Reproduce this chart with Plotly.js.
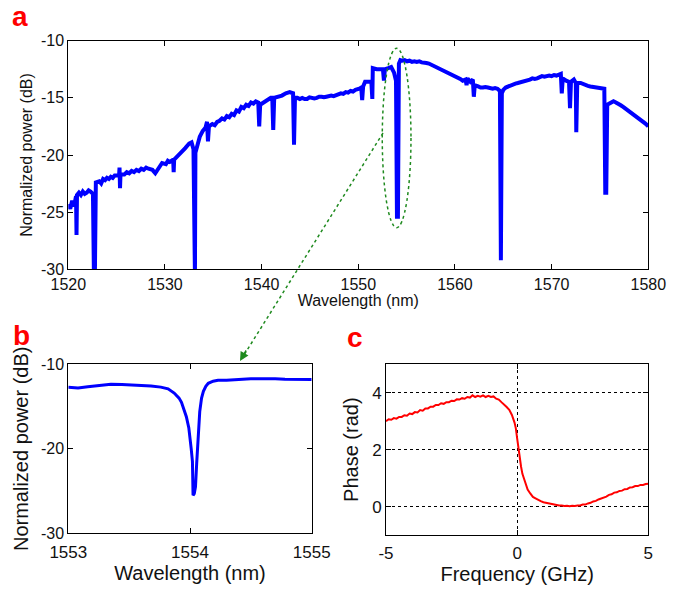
<!DOCTYPE html>
<html>
<head>
<meta charset="utf-8">
<script src="https://cdn.plot.ly/plotly-3.0.1.min.js"></script>
<style>html,body{margin:0;padding:0;background:#fff;}#chart{width:675px;height:589px;}</style>
</head>
<body>
<div id="chart"></div>
<script>
// Panel a: broadband transmission spectrum
const waveA = [1520.00,1520.20,1520.40,1520.60,1520.80,1520.85,1520.90,1521.10,1521.30,1521.50,1521.70,1521.90,1522.10,1522.30,1522.55,1522.65,1522.75,1522.85,1523.20,1523.40,1523.60,1523.80,1524.00,1524.20,1524.40,1524.60,1524.80,1525.25,1525.30,1525.35,1525.40,1525.80,1526.05,1526.30,1526.55,1526.80,1527.05,1527.30,1527.55,1527.80,1528.05,1528.30,1528.70,1529.00,1529.30,1529.70,1530.10,1530.30,1530.50,1530.85,1530.90,1530.95,1531.30,1531.70,1532.10,1532.50,1532.75,1532.95,1533.00,1533.10,1533.15,1533.30,1533.60,1533.90,1534.20,1534.35,1534.45,1534.55,1534.90,1535.15,1535.40,1535.65,1535.90,1536.15,1536.40,1536.65,1536.90,1537.15,1537.40,1537.65,1537.90,1538.15,1538.40,1538.65,1538.90,1539.15,1539.40,1539.65,1539.75,1539.85,1540.20,1540.60,1540.95,1541.10,1541.20,1541.30,1541.70,1542.10,1542.50,1542.90,1543.25,1543.35,1543.45,1543.70,1543.95,1544.20,1544.45,1544.70,1544.95,1545.20,1545.45,1545.70,1545.95,1546.20,1546.45,1546.70,1546.95,1547.20,1547.45,1547.70,1547.95,1548.20,1548.45,1548.70,1548.95,1549.20,1549.45,1549.70,1550.10,1550.30,1550.40,1550.50,1550.70,1551.00,1551.35,1551.45,1551.50,1551.90,1552.30,1552.55,1552.65,1552.75,1553.10,1553.40,1553.70,1553.90,1554.00,1554.10,1554.20,1554.35,1554.55,1554.80,1555.05,1555.30,1555.55,1555.80,1556.05,1556.30,1556.55,1556.80,1557.05,1557.30,1557.55,1557.80,1558.05,1558.30,1558.55,1558.80,1559.05,1559.30,1559.55,1559.80,1560.05,1560.30,1560.55,1560.80,1561.10,1561.20,1561.30,1561.60,1561.85,1561.95,1562.05,1562.40,1562.65,1562.90,1563.15,1563.40,1563.65,1563.90,1564.15,1564.40,1564.65,1564.75,1564.85,1565.00,1565.25,1565.50,1565.75,1566.00,1566.25,1566.50,1566.75,1567.00,1567.25,1567.50,1567.75,1568.00,1568.25,1568.50,1568.75,1569.00,1569.25,1569.50,1569.75,1570.00,1570.25,1570.50,1570.95,1571.05,1571.15,1571.50,1571.80,1571.90,1572.00,1572.30,1572.50,1572.55,1572.65,1573.00,1573.25,1573.50,1573.75,1574.00,1574.25,1574.50,1574.75,1575.00,1575.45,1575.55,1575.65,1575.75,1576.00,1576.20,1576.40,1576.65,1576.90,1577.15,1577.40,1577.65,1577.90,1578.15,1578.40,1578.65,1578.90,1579.15,1579.40,1579.70,1580.00];
const powerA = [-24.3,-24.7,-24.0,-24.5,-23.6,-27.0,-23.5,-23.3,-23.5,-23.2,-23.4,-23.3,-23.1,-23.2,-23.4,-30.5,-30.5,-22.4,-22.3,-22.5,-22.1,-22.2,-22.0,-22.1,-21.9,-22.0,-21.8,-21.8,-21.1,-22.9,-21.7,-21.7,-21.5,-21.6,-21.4,-21.5,-21.3,-21.4,-21.2,-21.3,-21.1,-21.2,-21.3,-21.6,-21.2,-20.7,-20.8,-20.5,-20.6,-20.4,-21.5,-20.4,-20.1,-19.8,-19.4,-19.0,-18.9,-19.5,-30.5,-30.5,-19.8,-19.3,-18.4,-17.9,-17.6,-17.1,-18.8,-17.5,-17.3,-17.4,-17.1,-17.0,-16.8,-16.9,-16.6,-16.7,-16.4,-16.5,-16.1,-16.2,-15.8,-15.9,-15.6,-15.7,-15.4,-15.5,-15.3,-15.4,-17.5,-15.6,-15.4,-15.2,-15.0,-15.0,-17.8,-15.0,-14.9,-14.8,-14.6,-14.5,-14.6,-19.1,-15.0,-15.0,-15.1,-15.0,-15.1,-15.1,-14.95,-15.0,-15.05,-15.0,-14.9,-14.9,-14.95,-14.9,-14.85,-14.8,-14.85,-14.75,-14.7,-14.6,-14.65,-14.5,-14.55,-14.4,-14.45,-14.3,-14.2,-14.1,-15.2,-14.0,-13.6,-13.6,-13.6,-15.1,-12.4,-12.5,-12.5,-12.5,-13.5,-12.5,-12.4,-12.3,-12.8,-13.5,-25.4,-25.4,-12.0,-11.7,-11.75,-11.7,-11.8,-11.75,-11.85,-11.8,-11.85,-11.8,-11.9,-11.9,-11.95,-12.0,-12.1,-12.2,-12.3,-12.4,-12.5,-12.6,-12.7,-12.8,-12.9,-13.0,-13.1,-13.2,-13.35,-13.5,-13.4,-13.9,-13.3,-13.6,-13.4,-14.9,-13.9,-14.0,-14.1,-14.1,-14.05,-14.1,-14.15,-14.2,-14.15,-14.2,-14.4,-29.2,-14.6,-14.3,-14.1,-14.0,-13.9,-13.8,-13.75,-13.7,-13.65,-13.6,-13.55,-13.5,-13.4,-13.3,-13.35,-13.3,-13.2,-13.1,-13.15,-13.1,-13.05,-13.1,-13.0,-13.05,-12.9,-14.6,-13.3,-13.5,-13.6,-15.9,-13.6,-13.4,-13.7,-18.0,-13.7,-13.7,-13.8,-13.9,-13.95,-14.0,-14.05,-14.1,-14.15,-14.2,-14.2,-23.3,-23.3,-15.6,-15.5,-15.35,-15.3,-15.4,-15.5,-15.65,-15.8,-15.95,-16.1,-16.25,-16.4,-16.55,-16.7,-16.85,-17.0,-17.25,-17.5];

// Panel b: zoom on the resonance near 1554 nm
const waveB = [1553.00,1553.08,1553.16,1553.25,1553.35,1553.44,1553.52,1553.60,1553.68,1553.76,1553.82,1553.87,1553.91,1553.93,1553.95,1553.97,1553.99,1554.00,1554.01,1554.02,1554.025,1554.035,1554.045,1554.055,1554.065,1554.08,1554.095,1554.11,1554.13,1554.15,1554.19,1554.23,1554.30,1554.37,1554.44,1554.50,1554.60,1554.70,1554.78,1554.86,1554.93,1555.00];
const powerB = [-12.72,-12.8,-12.65,-12.5,-12.37,-12.4,-12.45,-12.5,-12.57,-12.7,-12.9,-13.4,-14.0,-14.5,-15.3,-16.2,-17.5,-18.6,-20.0,-21.5,-25.5,-25.3,-24.5,-21.7,-18.6,-15.6,-14.0,-13.2,-12.6,-12.25,-12.0,-11.9,-11.9,-11.85,-11.75,-11.7,-11.72,-11.7,-11.78,-11.8,-11.8,-11.8];

// Panel c: phase response
const freqC = [-5.0,-4.9,-4.8,-4.7,-4.6,-4.5,-4.4,-4.3,-4.2,-4.1,-4.0,-3.9,-3.8,-3.7,-3.6,-3.5,-3.4,-3.3,-3.2,-3.1,-3.0,-2.9,-2.8,-2.7,-2.6,-2.5,-2.4,-2.3,-2.2,-2.1,-2.0,-1.9,-1.8,-1.7,-1.6,-1.5,-1.4,-1.3,-1.2,-1.1,-1.0,-0.9,-0.8,-0.7,-0.6,-0.5,-0.4,-0.3,-0.2,-0.1,-0.05,0.0,0.05,0.1,0.15,0.2,0.3,0.4,0.5,0.6,0.7,0.8,0.9,1.0,1.1,1.2,1.3,1.4,1.5,1.6,1.7,1.8,1.9,2.0,2.1,2.2,2.3,2.4,2.5,2.6,2.7,2.8,2.9,3.0,3.1,3.2,3.3,3.4,3.5,3.6,3.7,3.8,3.9,4.0,4.1,4.2,4.3,4.4,4.5,4.6,4.7,4.8,4.9,5.0];
const phaseC = [3.00,3.07,3.05,3.11,3.09,3.15,3.15,3.21,3.19,3.27,3.25,3.32,3.31,3.39,3.37,3.45,3.45,3.51,3.51,3.57,3.57,3.63,3.61,3.67,3.67,3.72,3.71,3.77,3.76,3.81,3.79,3.85,3.83,3.91,3.85,3.89,3.86,3.91,3.85,3.89,3.85,3.87,3.79,3.76,3.67,3.60,3.50,3.40,3.22,2.95,2.75,2.40,2.05,1.65,1.40,1.15,0.85,0.60,0.46,0.34,0.29,0.23,0.19,0.15,0.13,0.10,0.10,0.07,0.06,0.04,0.04,0.02,0.03,0.01,0.03,0.02,0.04,0.04,0.07,0.07,0.11,0.13,0.18,0.20,0.25,0.28,0.33,0.35,0.41,0.43,0.49,0.50,0.55,0.56,0.61,0.62,0.67,0.68,0.72,0.72,0.76,0.76,0.79,0.80];

const xTicksA = [1520,1530,1540,1550,1560,1570,1580];
const yTicksA = [-30,-25,-20,-15,-10];
const yLabelsA = ['-30','-25','-20','-15','-10'];
const xTicksB = [1553,1554,1555];
const yTicksB = [-30,-20,-10];
const yLabelsB = ['-30','-20','-10'];
const xTicksC = [-5,0,5];
const xLabelsC = ['-5','0','5'];
const yTicksC = [0,2,4];

const W = 675, H = 589;
const px = v => v / W;
const py = v => 1 - v / H;
const FONT = 'Liberation Sans, Arial, sans-serif';

const baseAxis = {
  showline: true, linecolor: '#000', linewidth: 1, mirror: 'ticks',
  ticks: 'inside', ticklen: 5, tickcolor: '#000', showgrid: false, zeroline: false,
  tickfont: {family: FONT, size: 16, color: '#111'}, tickmode: 'array'
};

const traces = [
  {x: waveA, y: powerA, xaxis: 'x', yaxis: 'y', type: 'scatter', mode: 'lines',
   line: {color: '#0000ff', width: 4}, hoverinfo: 'skip'},
  {x: waveB, y: powerB, xaxis: 'x2', yaxis: 'y2', type: 'scatter', mode: 'lines',
   line: {color: '#0000ff', width: 3}, hoverinfo: 'skip'},
  {x: freqC, y: phaseC, xaxis: 'x3', yaxis: 'y3', type: 'scatter', mode: 'lines',
   line: {color: '#ff0000', width: 2}, hoverinfo: 'skip'}
];

const green = '#1f8a1f';
const layout = {
  width: W, height: H, autosize: false,
  margin: {l: 0, r: 0, t: 0, b: 0},
  paper_bgcolor: '#fff', plot_bgcolor: '#fff',
  showlegend: false,
  font: {family: FONT, color: '#111'},
  xaxis: Object.assign({}, baseAxis, {domain: [px(68.3), px(648.3)], range: [1520, 1580], tickvals: xTicksA,
    anchor: 'y', title: {text: 'Wavelength (nm)', font: {family: FONT, size: 16, color: '#111'}, standoff: 2}}),
  yaxis: Object.assign({}, baseAxis, {domain: [py(269.3), py(40.7)], range: [-30, -10], tickvals: yTicksA, ticktext: yLabelsA,
    anchor: 'x', title: {text: 'Normalized power (dB)', font: {family: FONT, size: 16, color: '#111'}, standoff: 4}}),
  xaxis2: Object.assign({}, baseAxis, {domain: [px(68.3), px(311.7)], range: [1553, 1555], tickvals: xTicksB,
    anchor: 'y2', tickfont: {family: FONT, size: 17, color: '#111'}, ticklabelstandoff: 3,
    title: {text: 'Wavelength (nm)', font: {family: FONT, size: 20, color: '#111'}, standoff: 2}}),
  yaxis2: Object.assign({}, baseAxis, {domain: [py(533.3), py(364.3)], range: [-30, -10], tickvals: yTicksB, ticktext: yLabelsB,
    anchor: 'x2', tickfont: {family: FONT, size: 16, color: '#111'},
    title: {text: 'Normalized power (dB)', font: {family: FONT, size: 20, color: '#111'}, standoff: 6}}),
  xaxis3: Object.assign({}, baseAxis, {domain: [px(386), px(648.3)], range: [-5, 5], tickvals: xTicksC, ticktext: xLabelsC,
    anchor: 'y3', tickfont: {family: FONT, size: 17, color: '#111'}, ticklabelstandoff: 3,
    showgrid: true, gridcolor: '#000', griddash: '3px,3px', gridwidth: 1,
    title: {text: 'Frequency (GHz)', font: {family: FONT, size: 20, color: '#111'}, standoff: 2}}),
  yaxis3: Object.assign({}, baseAxis, {domain: [py(535), py(364.3)], range: [-1, 5], tickvals: yTicksC,
    anchor: 'x3', tickfont: {family: FONT, size: 17, color: '#111'},
    showgrid: true, gridcolor: '#000', griddash: '3px,3px', gridwidth: 1,
    title: {text: 'Phase (rad)', font: {family: FONT, size: 20, color: '#111'}, standoff: 8}}),
  shapes: [
    {type: 'circle', xref: 'x', yref: 'y', x0: 1552.48, x1: 1555.45, y0: -26.36, y1: -10.67,
     line: {color: green, width: 1.5, dash: 'dot'}},
    {type: 'line', xref: 'paper', yref: 'paper', x0: px(383), y0: py(133), x1: px(244), y1: py(355),
     line: {color: green, width: 1.5, dash: 'dot'}}
  ],
  annotations: [
    {xref: 'paper', yref: 'paper', x: px(240), y: py(361), ax: 7, ay: -12, axref: 'pixel', ayref: 'pixel',
     showarrow: true, arrowhead: 2, arrowsize: 1.2, arrowwidth: 1.5, arrowcolor: green, text: '', standoff: 0},
    {xref: 'paper', yref: 'paper', x: px(20), y: py(16), text: '<b>a</b>', showarrow: false,
     font: {family: FONT, size: 28, color: '#ff0000'}, xanchor: 'center', yanchor: 'middle'},
    {xref: 'paper', yref: 'paper', x: px(22), y: py(335), text: '<b>b</b>', showarrow: false,
     font: {family: FONT, size: 28, color: '#ff0000'}, xanchor: 'center', yanchor: 'middle'},
    {xref: 'paper', yref: 'paper', x: px(355), y: py(337), text: '<b>c</b>', showarrow: false,
     font: {family: FONT, size: 28, color: '#ff0000'}, xanchor: 'center', yanchor: 'middle'}
  ]
};

Plotly.newPlot('chart', traces, layout, {staticPlot: true, displayModeBar: false});
</script>
</body>
</html>
